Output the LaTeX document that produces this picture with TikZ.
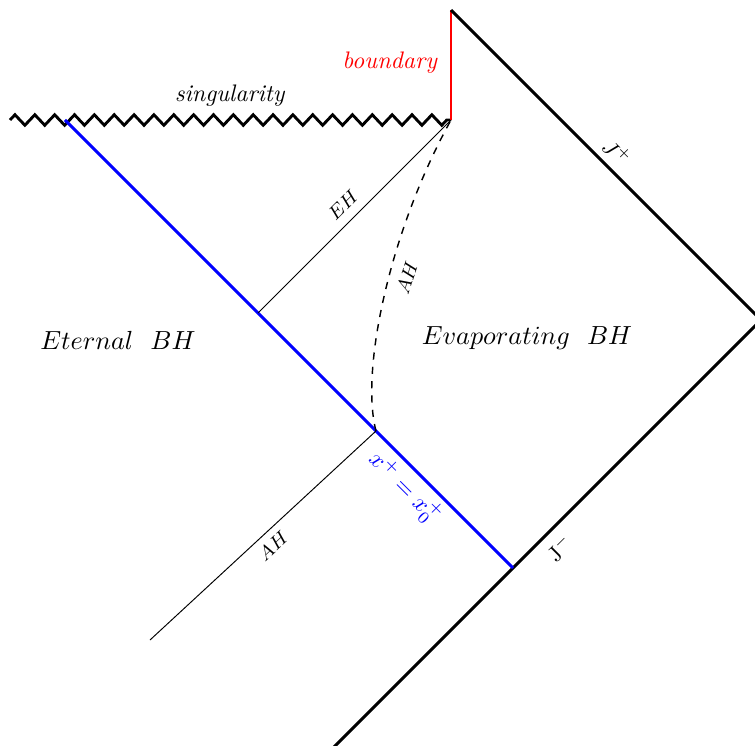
\documentclass[tikz,border=0pt]{standalone}
\usepackage{amsmath,amssymb}
\usetikzlibrary{decorations.pathmorphing,positioning,calc}

\begin{document}
\begin{tikzpicture}[x=0.0147cm, y=-0.0147cm,
  wall/.style={very thick},
  horizon/.style={thin},
  sing/.style={very thick, decorate, decoration={zigzag, segment length=8.3pt, amplitude=2.2pt}},
  tag/.style={font=\normalsize},
  region/.style={font=\fontsize{11}{13}\selectfont},
  small/.style={font=\footnotesize}]
  \useasboundingbox (0,0) rectangle (755,746);
  % corners of the diagram
  \coordinate (top) at (451,10);
  \coordinate (send) at (451,120);
  \coordinate (sstart) at (10,120);
  \coordinate (rcorner) at (761,320);
  \coordinate (bot) at (300,781);
  \coordinate (shock) at (65,120);
  \coordinate (xzero) at (513,568);
  \coordinate (ehfoot) at (258,313);
  \coordinate (ahtop) at (376,431);
  \coordinate (ahfoot) at (150,640);
  % lines
  \draw[sing] (sstart) -- (send);
  \draw[wall, red] (send) -- (top);
  \draw[wall] (top) -- (rcorner) -- (bot);
  \draw[wall, blue] (shock) -- (xzero);
  \draw[horizon] (send) -- (ehfoot);
  \draw[horizon] (ahtop) -- (ahfoot);
  \draw[semithick, dashed] (ahtop) .. controls (360,370) and (390,230) .. (send);
  % labels
  \node[tag] (singlbl) at (230,96) {\textit{singularity}};
  \node[tag, red] (bndlbl) at (390,63) {\textit{boundary}};
  \node[font=\small, rotate=-45] (jplus) at (617,152) {$J^+$};
  \node[small, rotate=45] (ehlbl) at (343,205) {$EH$};
  \node[small, rotate=72] (ahlbl) at (407,278) {$AH$};
  \node[region] (eternal) at (118,340) {$Eternal\ \ BH$};
  \node[region] (evap) at (527,338) {$Evaporating\ \ BH$};
  \node[tag, blue, rotate=-45] (xlbl) at (405,488) {$x^+=x_0^+$};
  \node[small, rotate=43] (ahlow) at (273,546) {$AH$};
  \node[font=\small, rotate=45] (jminus) at (560,548) {J$^-$};
\end{tikzpicture}
\end{document}
